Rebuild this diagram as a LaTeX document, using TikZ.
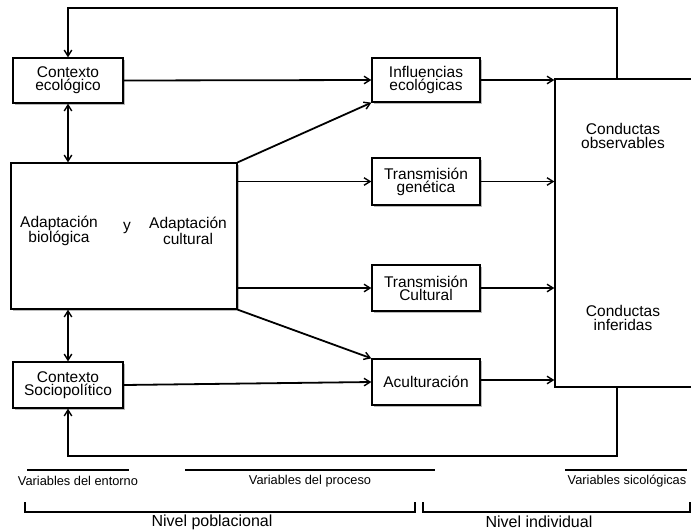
\documentclass[tikz,border=0pt]{standalone}
\usepackage{fontspec}
\setmainfont{Liberation Sans}
\usetikzlibrary{arrows.meta,shadows}
\begin{document}
\begin{tikzpicture}[x=1pt,y=-1pt,
  box/.style={draw=black, line width=1.3pt, fill=white, inner sep=0pt,
    align=center, font=\fontsize{15.5}{13.2}\selectfont,
    drop shadow={shadow xshift=1.6pt, shadow yshift=-1.6pt, opacity=0.45, fill=black!60}},
  plain/.style={draw=black, line width=1.3pt, fill=white, inner sep=0pt},
  txt/.style={align=center, font=\fontsize{15.5}{13.2}\selectfont, inner sep=0pt},
  arr/.style={line width=1.8pt, -{Straight Barb[length=6pt,width=7.5pt,line width=1.4pt]}},
  darr/.style={line width=1.8pt, {Straight Barb[length=6pt,width=7.5pt,line width=1.4pt]}-{Straight Barb[length=6pt,width=7.5pt,line width=1.4pt]}},
  rule/.style={line width=1.5pt},
  small/.style={font=\fontsize{12.8}{14}\selectfont, inner sep=0pt},
  level/.style={font=\fontsize{16}{18}\selectfont, inner sep=0pt}]
\useasboundingbox[fill=white] (0,0) rectangle (691,531);

% environment boxes
\node[box, minimum width=110pt, minimum height=45pt] (ce) at (68,80.5) {Contexto\\ecológico};
\node[box, minimum width=226pt, minimum height=146pt] (ad) at (124,236) {};
\node[box, minimum width=110pt, minimum height=46pt] (cs) at (68,385) {Contexto\\Sociopolítico};

% texts inside the adaptation box
\node[txt] (ab) at (59,231) {Adaptación\\biológica};
\node[txt] (ay) at (127,228) {y};
\node[txt] (ac2) at (188,231) {Adaptación\\cultural};

% process boxes
\node[box, minimum width=108pt, minimum height=44pt] (ie) at (426,80) {Influencias\\ecológicas};
\node[box, minimum width=108pt, minimum height=47pt] (tg) at (426,181.5) {Transmisión\\genética};
\node[box, minimum width=108pt, minimum height=46pt] (tc) at (426,288) {Transmisión\\Cultural};
\node[box, minimum width=108pt, minimum height=46pt] (ac) at (426,382) {Aculturación};

% behaviour box (runs past the right edge)
\node[plain, minimum width=145pt, minimum height=308pt] (co) at (627.5,233) {};
\node[txt] (cob) at (623,136) {Conductas\\observables};
\node[txt] (coi) at (623,318) {Conductas\\inferidas};

% feedback loops
\coordinate (tp) at (617,8);
\coordinate (bt) at (617,456);
\draw[arr] (co.north -| tp) -- (tp) -| (ce.north);
\draw[arr] (co.south -| bt) -- (bt) -| (cs.south);

% two-way links
\draw[darr] (ce.south) -- (ce.south |- ad.north);
\draw[darr] (cs.north) -- (cs.north |- ad.south);

% into the process boxes
\draw[arr] (ce.east) -- (ie.west);
\draw[arr] (ad.north east) -- (ie.south west);
\draw[arr] (ad.east |- tg) -- (tg.west);
\draw[arr] (ad.east |- tc) -- (tc.west);
\draw[arr] (ad.south east) -- (ac.north west);
\draw[arr] (cs.east) -- (ac.west);

% into the behaviour box
\draw[arr] (ie.east) -- (ie.east -| co.west);
\draw[arr] (tg.east) -- (tg.east -| co.west);
\draw[arr] (tc.east) -- (tc.east -| co.west);
\draw[arr] ([yshift=2pt]ac.east) -- ([yshift=2pt]ac.east -| co.west);

% variable groups
\draw[rule] (27,470) -- (129,470);
\node[small] (ve) at (78,481) {Variables del entorno};
\draw[rule] (185,470) -- (435,470);
\node[small] (vp) at (310,481) {Variables del proceso};
\draw[rule] (565,470) -- (687,470);
\node[small] (vs) at (627,481) {Variables sicológicas};

% levels
\draw[rule] (25,502) -- (25,512) -- (415,512) -- (415,502);
\node[level] (np) at (212,522) {Nivel poblacional};
\draw[rule] (423,502) -- (423,512) -- (690,512) -- (690,502);
\node[level] (ni) at (539,522) {Nivel individual};
\end{tikzpicture}
\end{document}
